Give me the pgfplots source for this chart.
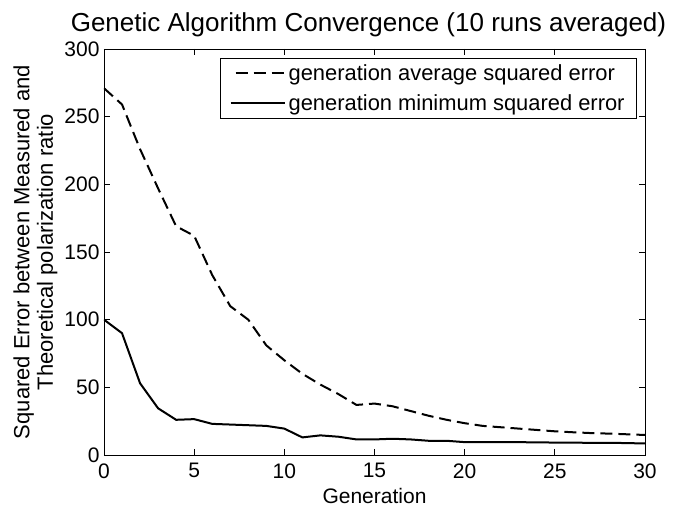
\documentclass[border=0pt]{standalone}
\usepackage{fontspec}
\setmainfont{Liberation Sans}
\usepackage{pgfplots}
\pgfplotsset{compat=1.18}
\begin{document}
\begin{tikzpicture}[x=1pt,y=1pt]
\begin{axis}[
  scale only axis,
  width=541pt, height=406pt,
  xmin=0, xmax=30, ymin=0, ymax=300,
  xtick={0,5,...,30}, ytick={0,50,...,300},
  tick align=inside,
  major tick length=6pt,
  tick style={black, line width=0.8pt},
  axis line style={line width=0.8pt},
  /pgf/number format/assume math mode=true,
  font=\fontsize{21}{25}\selectfont,
  xticklabel style={yshift=-5pt},
  yticklabel style={xshift=-1pt},
  title={Genetic Algorithm Convergence (10 runs averaged)},
  title style={font=\fontsize{26}{30}\selectfont, yshift=3pt, xshift=-6pt},
  xlabel={Generation},
  ylabel={Squared Error between Measured and\\Theoretical polarization ratio},
  ylabel style={align=center, font=\fontsize{22}{23.5}\selectfont, yshift=0pt},
  xlabel style={yshift=-3pt},
  legend style={at={(1,1)}, anchor=north east, xshift=-8pt, yshift=-9pt,
    draw=black, line width=0.8pt, font=\fontsize{21.9}{25}\selectfont,
    inner xsep=9pt, inner ysep=4pt, row sep=9pt, cells={anchor=west},
    nodes={inner xsep=3pt},
    /tikz/every even column/.style={column sep=0pt}},
  legend image code/.code={\draw[#1, dash phase=13pt] (0pt,0pt) -- (54pt,0pt);},
  legend cell align=left,
]
\addplot[black, line width=2pt, dash pattern=on 12pt off 6pt] coordinates {
(0,271) (1,259) (2,226) (3,197) (4,169) (5,162) (6,133) (7,110) (8,100) (9,81)
(10,70) (11,60) (12,52) (13,45) (14,37) (15,38) (16,36) (17,32.5) (18,29) (19,26)
(20,23.5) (21,21.5) (22,20.5) (23,19.5) (24,18.5) (25,17.5) (26,16.8) (27,16.2) (28,15.8) (29,15.3) (30,14.8)};
\addlegendentry{generation average squared error}
\addplot[black, line width=2pt] coordinates {
(0,100) (1,90) (2,53) (3,34.5) (4,26) (5,26.5) (6,23) (7,22.5) (8,22) (9,21.5)
(10,19.5) (11,13) (12,14.5) (13,13.5) (14,11.5) (15,11.5) (16,12) (17,11.5) (18,10.5) (19,10.5)
(20,9.5) (21,9.5) (22,9.5) (23,9.5) (24,9.3) (25,9.2) (26,9.1) (27,9) (28,9) (29,8.8) (30,8.5)};
\addlegendentry{generation minimum squared error}
\end{axis}
\pgfresetboundingbox
\path ([shift={(-104pt,-58pt)}]current axis.south west) rectangle ([shift={(33pt,49pt)}]current axis.north east);
\end{tikzpicture}
\end{document}
